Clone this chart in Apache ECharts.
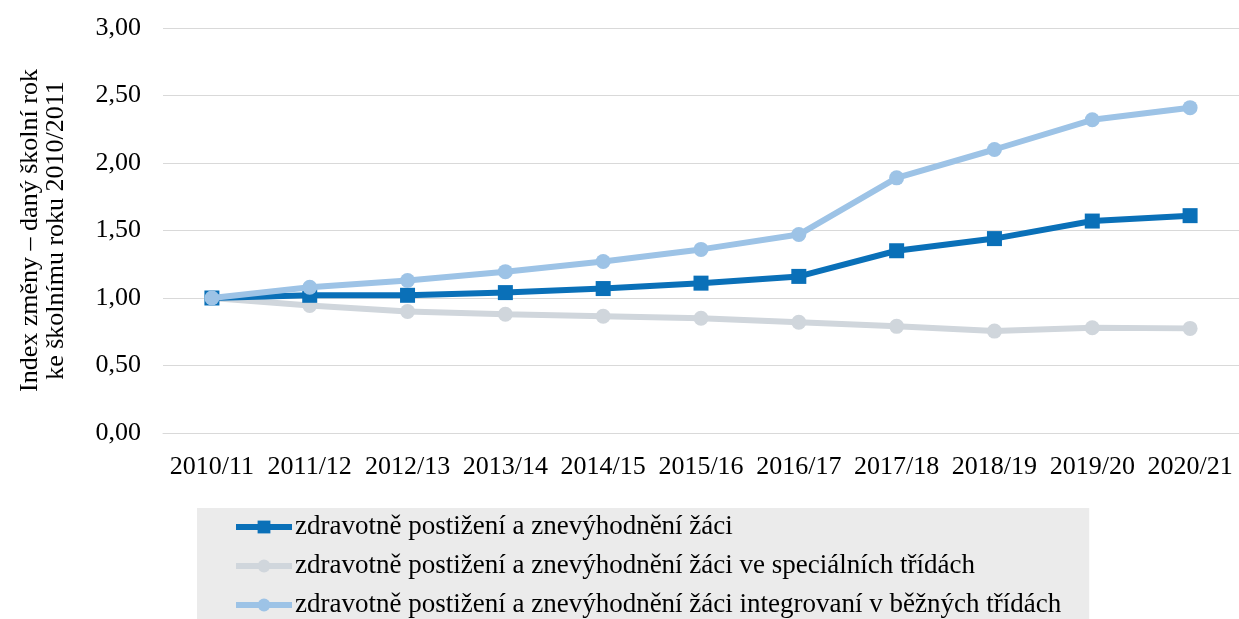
<!DOCTYPE html>
<html>
<head>
<meta charset="utf-8">
<script src="https://cdn.jsdelivr.net/npm/echarts@6/dist/echarts.min.js"></script>
<style>
  html, body { margin: 0; padding: 0; background: #fff; }
  #chart { width: 1239px; height: 619px; }
</style>
</head>
<body>
<div id="chart"></div>
<script>
var years = ['2010/11', '2011/12', '2012/13', '2013/14', '2014/15', '2015/16', '2016/17', '2017/18', '2018/19', '2019/20', '2020/21'];
var seriesNames = [
    'zdravotně postižení a znevýhodnění žáci',
    'zdravotně postižení a znevýhodnění žáci ve speciálních třídách',
    'zdravotně postižení a znevýhodnění žáci integrovaní v běžných třídách'
];
var allPupils = [1.00, 1.02, 1.02, 1.04, 1.07, 1.11, 1.16, 1.35, 1.44, 1.57, 1.61];
var specialClasses = [1.00, 0.945, 0.90, 0.88, 0.865, 0.85, 0.82, 0.79, 0.755, 0.78, 0.775];
var integrated = [1.00, 1.08, 1.13, 1.195, 1.27, 1.36, 1.47, 1.89, 2.10, 2.32, 2.41];

var font = '"Liberation Serif", "Times New Roman", serif';
var myChart = echarts.init(document.getElementById('chart'));

function lineSeries(name, data, color, symbol, z) {
    return {
        name: name,
        type: 'line',
        data: data,
        z: z,
        symbol: symbol,
        symbolSize: 15,
        lineStyle: { color: color, width: 6 },
        itemStyle: { color: color },
        emphasis: { disabled: true }
    };
}

var option = {
    animation: false,
    textStyle: { fontFamily: font },
    grid: { left: 163, right: -8, top: 28, bottom: 186 },
    legend: {
        orient: 'vertical',
        left: 197,
        top: 508,
        height: 200,
        backgroundColor: '#ebebeb',
        padding: [5, 28, 6, 36],
        itemWidth: 56,
        itemHeight: 16,
        itemGap: 11,
        lineStyle: { width: 6 },
        textStyle: { fontFamily: font, fontSize: 27, lineHeight: 28, color: '#000', padding: [0, 0, 0, -2] },
        data: seriesNames
    },
    xAxis: {
        type: 'category',
        data: years,
        axisLine: { lineStyle: { color: '#d9d9d9', width: 1 } },
        axisTick: { show: false },
        axisLabel: { fontFamily: font, fontSize: 26, color: '#000', margin: 21, interval: 0 }
    },
    yAxis: {
        type: 'value',
        min: 0,
        max: 3,
        interval: 0.5,
        name: 'Index změny – daný školní rok\nke školnímu roku 2010/2011',
        nameLocation: 'middle',
        nameRotate: 90,
        nameGap: 94,
        nameTextStyle: { fontFamily: font, fontSize: 26, color: '#000', lineHeight: 26 },
        axisLine: { show: false },
        axisTick: { show: false },
        splitLine: { lineStyle: { color: '#d9d9d9', width: 1 } },
        axisLabel: {
            fontFamily: font, fontSize: 26, color: '#000', margin: 22,
            formatter: function (v) { return v.toFixed(2).replace('.', ','); }
        }
    },
    series: [
        lineSeries(seriesNames[1], specialClasses, '#d0d6dc', 'circle', 2),
        lineSeries(seriesNames[0], allPupils, '#0a70b8', 'rect', 3),
        lineSeries(seriesNames[2], integrated, '#9dc3e6', 'circle', 4)
    ]
};

option && myChart.setOption(option);
</script>
</body>
</html>
